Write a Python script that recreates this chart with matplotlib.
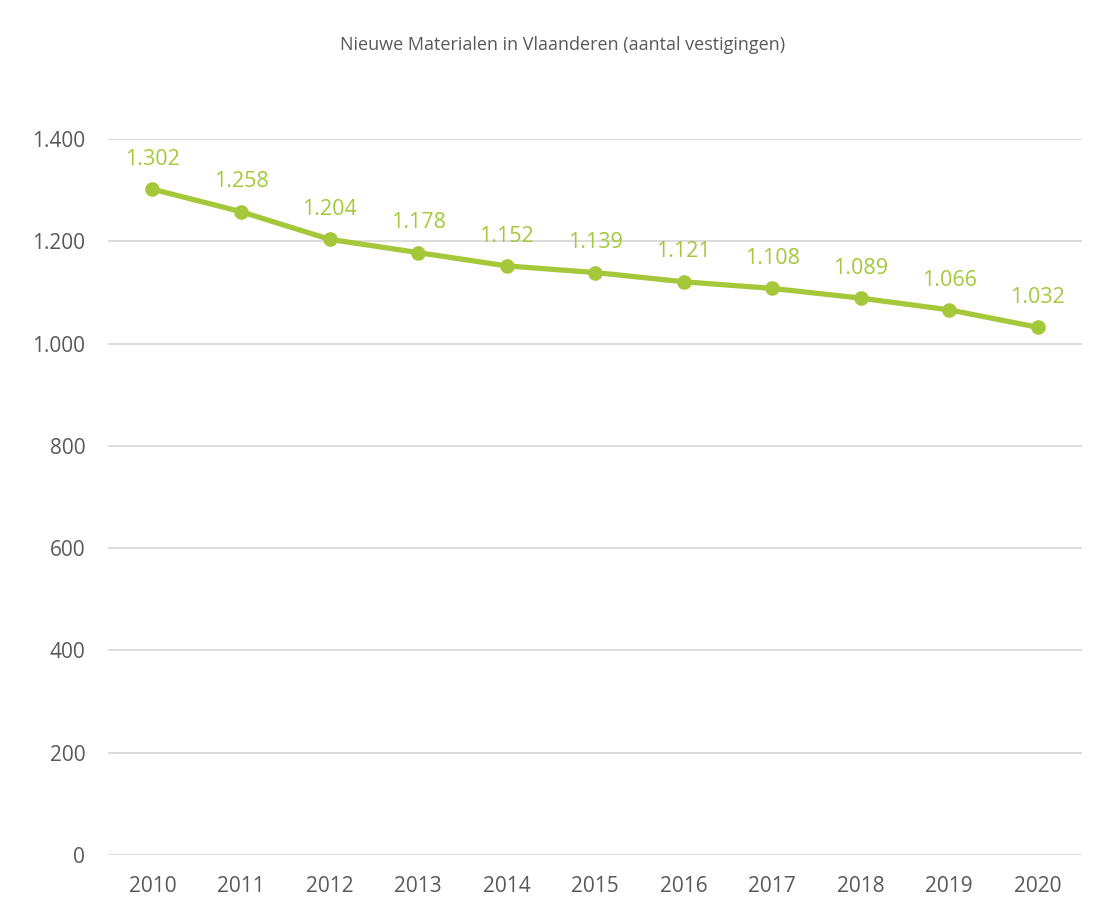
import matplotlib.pyplot as plt
from matplotlib.ticker import FuncFormatter

# data
years = ['2010', '2011', '2012', '2013', '2014', '2015', '2016', '2017', '2018', '2019', '2020']
vestigingen = [1302, 1258, 1204, 1178, 1152, 1139, 1121, 1108, 1089, 1066, 1032]
y_ticks = [0, 200, 400, 600, 800, 1000, 1200, 1400]

green = '#A5C83A'
grey_text = '#595959'

plt.rcParams['font.family'] = ['Open Sans', 'DejaVu Sans']

fig = plt.figure(figsize=(10.93, 9.09), dpi=100)
ax = fig.add_axes([0.099, 0.0594, 0.891, 0.7876])

x = list(range(len(years)))
ax.plot(x, vestigingen, color=green, linewidth=3.8, marker='o', markersize=9.5,
        solid_capstyle='round', zorder=3)

# data labels above each point, with dot as thousands separator
for xi, v in zip(x, vestigingen):
    ax.annotate(f"{v:,}".replace(',', '.'), (xi, v), xytext=(0, 21.5),
                textcoords='offset points', ha='center', va='center',
                fontsize=15.5, color=green)

ax.set_xlim(-0.5, len(years) - 0.5)
ax.set_ylim(0, 1400)
ax.set_xticks(x)
ax.set_xticklabels(years)
ax.set_yticks(y_ticks)
ax.yaxis.set_major_formatter(FuncFormatter(lambda v, p: f"{int(v):,}".replace(',', '.')))

ax.grid(axis='y', color='#D9D9D9', linewidth=1.3)
ax.set_axisbelow(True)
for s in ax.spines.values():
    s.set_visible(False)
ax.tick_params(axis='both', length=0, labelsize=15, labelcolor=grey_text)
ax.tick_params(axis='y', pad=16.5)
ax.tick_params(axis='x', pad=15)

fig.text(0.515, 0.951, 'Nieuwe Materialen in Vlaanderen (aantal vestigingen)',
         ha='center', va='center', fontsize=13, color=grey_text)

fig.savefig('out.png', dpi=100)
